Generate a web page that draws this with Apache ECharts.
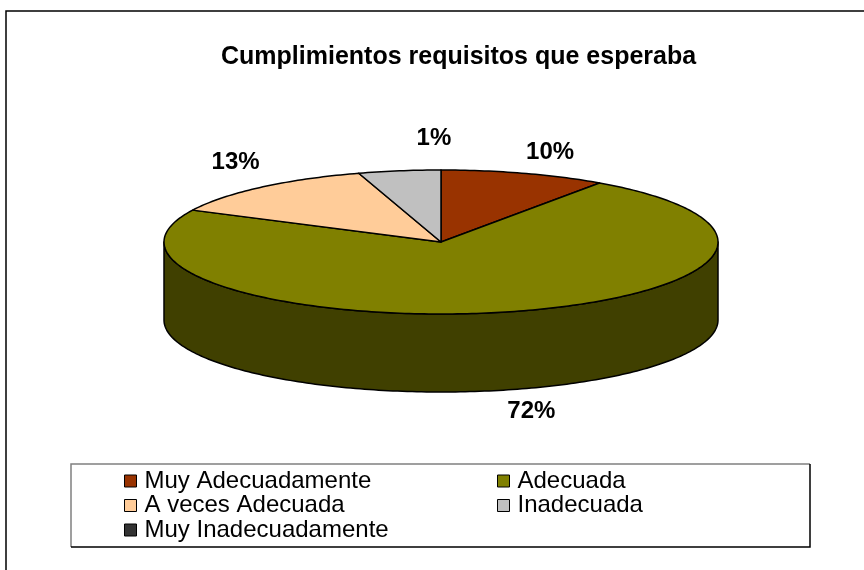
<!DOCTYPE html>
<html>
<head>
<meta charset="utf-8">
<script src="https://cdn.jsdelivr.net/npm/echarts@6/dist/echarts.min.js"></script>
<style>
  html, body { margin: 0; padding: 0; background: #fff; }
  #chart { width: 864px; height: 570px; }
</style>
</head>
<body>
<div id="chart"></div>
<script>
const categories = ['Muy Adecuadamente', 'Adecuada', 'A veces Adecuada', 'Inadecuada', 'Muy Inadecuadamente']
// slice sizes as drawn in the picture (percent)
const values = [9.7, 72.6, 12.9, 4.8, 0]
// label text as printed on the chart
const labelText = ['10%', '72%', '13%', '1%', '']

const topColors = ['#993300', '#808000', '#ffcc99', '#c0c0c0', '#333333']
const sideColors = ['#4c1900', '#404000', '#806650', '#606060', '#1a1a1a']

// ellipse layout of the 3d pie
const cx = 441, cy = 242, rx = 277, ry = 72, depth = 78
const labelNudge = [[17, 8], [14, -7], [-6, -2], [39, -3], [0, 0]]
const FONT = '"Liberation Sans", Arial, sans-serif'

const total = values.reduce((a, b) => a + b, 0)
const starts = []
let acc = 0
values.forEach(v => { starts.push(acc / total * 360); acc += v })

function pt(deg, dy) {
  const r = deg * Math.PI / 180
  return [cx + rx * Math.sin(r), cy - ry * Math.cos(r) + (dy || 0)]
}

function arc(a, b, dy) {
  const pts = []
  const n = Math.max(2, Math.ceil(b - a))
  for (let i = 0; i <= n; i++) pts.push(pt(a + (b - a) * i / n, dy))
  return pts
}

function renderSlice(params, api) {
  const i = params.dataIndex
  const v = api.value(0)
  if (!v) return null
  const a = starts[i]
  const b = a + v / total * 360
  const children = []
  // front wall, only the part facing the viewer
  const fa = Math.max(a, 90), fb = Math.min(b, 270)
  if (fb > fa) {
    const upper = arc(fa, fb, 0)
    const lower = arc(fa, fb, depth).reverse()
    children.push({
      type: 'polygon',
      z2: 1,
      shape: { points: upper.concat(lower) },
      style: { fill: sideColors[i], stroke: '#000', lineWidth: 1.5, lineJoin: 'round' },
    })
  }
  children.push({
    type: 'polygon',
    z2: 5,
    shape: { points: [[cx, cy]].concat(arc(a, b, 0)) },
    style: { fill: topColors[i], stroke: '#000', lineWidth: 1.5, lineJoin: 'round' },
  })
  const r = (a + b) / 2 * Math.PI / 180
  let lx = cx + (rx + 30) * Math.sin(r)
  let ly = cy - (ry + 30) * Math.cos(r)
  if (Math.cos(r) < 0) ly += depth
  children.push({
    type: 'text',
    z2: 10,
    style: {
      text: labelText[i],
      x: lx + labelNudge[i][0],
      y: ly + labelNudge[i][1],
      align: 'center',
      verticalAlign: 'middle',
      font: 'bold 24px ' + FONT,
      fill: '#000',
    },
  })
  return { type: 'group', children }
}

const chart = echarts.init(document.getElementById('chart'))
const option = {
  backgroundColor: '#fff',
  animation: false,
  title: {
    text: 'Cumplimientos requisitos que esperaba',
    left: 216,
    top: 40,
    textStyle: { fontFamily: FONT, fontSize: 25, fontWeight: 'bold', color: '#000' },
  },
  legend: {
    data: categories,
    left: 124,
    top: 469,
    width: 760,
    padding: 0,
    itemGap: 0.5,
    itemWidth: 12,
    itemHeight: 12,
    icon: 'rect',
    itemStyle: { borderColor: '#000', borderWidth: 1 },
    textStyle: {
      fontFamily: FONT,
      fontSize: 24,
      color: '#000',
      width: 352,
      lineHeight: 23,
      padding: [0, 0, 0, 3],
    },
    selectedMode: false,
  },
  graphic: [
    {
      type: 'rect',
      z: -10,
      shape: { x: 6, y: 11, width: 900, height: 600 },
      style: { fill: '#fff', stroke: '#000', lineWidth: 1.5 },
    },
    {
      type: 'polyline',
      z: 1,
      shape: { points: [[71, 547], [71, 464], [810, 464]] },
      style: { fill: null, stroke: '#808080', lineWidth: 1.5 },
    },
    {
      type: 'polyline',
      z: 1,
      shape: { points: [[810, 464], [810, 547], [71, 547]] },
      style: { fill: null, stroke: '#000', lineWidth: 1.5 },
    },
  ],
  series: [
    {
      name: 'Cumplimientos',
      type: 'custom',
      coordinateSystem: 'none',
      renderItem: renderSlice,
      data: values,
      silent: true,
    },
    {
      // only feeds the legend
      name: 'legend',
      type: 'pie',
      radius: [0, 0],
      center: [-100, -100],
      silent: true,
      label: { show: false },
      data: categories.map((name, i) => ({
        name,
        value: values[i],
        itemStyle: { color: topColors[i] },
      })),
    },
  ],
}
chart.setOption(option)
</script>
</body>
</html>
